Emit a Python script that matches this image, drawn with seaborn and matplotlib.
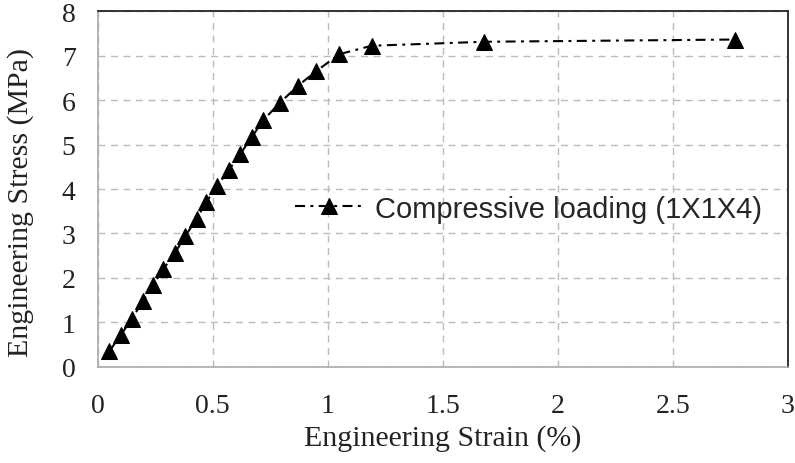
import matplotlib
matplotlib.use("Agg")
import matplotlib.pyplot as plt
import seaborn as sns
import pandas as pd

strain = [0.05, 0.10, 0.148, 0.196, 0.24, 0.285, 0.335, 0.38, 0.43, 0.47, 0.52,
          0.57, 0.62, 0.67, 0.72, 0.79, 0.87, 0.95, 1.05, 1.19, 1.68, 2.77]
stress = [0.35, 0.72, 1.08, 1.48, 1.84, 2.2, 2.56, 2.94, 3.33, 3.7, 4.07,
          4.43, 4.79, 5.17, 5.55, 5.93, 6.32, 6.65, 7.03, 7.22, 7.31, 7.36]
label = "Compressive loading (1X1X4)"
xticks = [0, 0.5, 1, 1.5, 2, 2.5, 3]
xticklabels = ["0", "0.5", "1", "1.5", "2", "2.5", "3"]
yticks = [0, 1, 2, 3, 4, 5, 6, 7, 8]

df = pd.DataFrame({"strain": strain, "stress": stress, "series": label})

sns.set_theme(style="white")
plt.rcParams["font.family"] = ["Liberation Serif", "DejaVu Serif"]

fig = plt.figure(figsize=(7.95, 4.64), dpi=100)
ax = fig.add_axes([0.123, 0.207, 0.868, 0.767])

sns.lineplot(data=df, x="strain", y="stress", hue="series", palette=["black"],
             marker="^", markersize=11, markeredgecolor="black",
             linestyle=(0, (4.8, 2.6, 1.4, 2.6)), linewidth=1.5, ax=ax,
             sort=False, estimator=None)

ax.set_xlim(0, 3)
ax.set_ylim(0, 8)
ax.set_xticks(xticks)
ax.set_xticklabels(xticklabels)
ax.set_yticks(yticks)
ax.tick_params(axis="both", labelsize=20, length=0, colors="#222222")
ax.tick_params(axis="x", pad=19)
ax.tick_params(axis="y", pad=16)
ax.grid(True, color="#bbbbbb", linestyle=(0, (5, 4)), linewidth=1.0)
ax.set_axisbelow(True)

for s in ["left", "bottom"]:
    ax.spines[s].set_color("#aaaaaa")
    ax.spines[s].set_linewidth(1.2)
for s in ["top", "right"]:
    ax.spines[s].set_color("#333333")
    ax.spines[s].set_linewidth(1.4)

ax.set_xlabel("Engineering Strain (%)", fontsize=21.5, labelpad=4, color="#222222")
ax.set_ylabel("Engineering Stress (MPa)", fontsize=21.5, color="#222222")
ax.yaxis.set_label_coords(-0.092, 0.466)

leg = ax.legend(loc="center left", bbox_to_anchor=(0.248, 0.445), frameon=False,
                handlelength=2.3, handletextpad=0.45,
                prop={"family": "Liberation Sans", "size": 21})

fig.savefig("out.png", dpi=100)
